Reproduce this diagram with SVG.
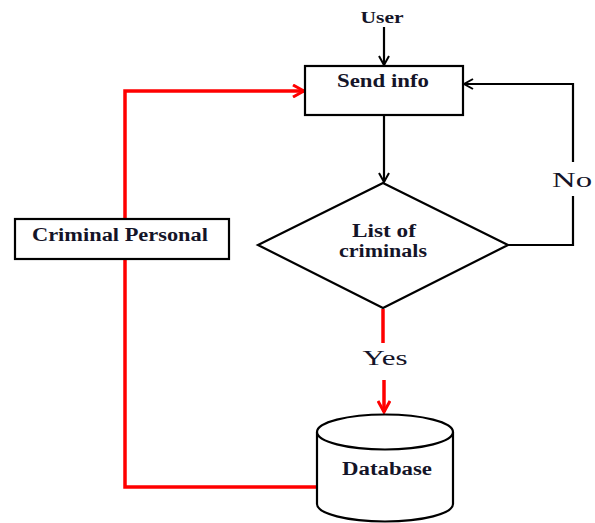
<svg xmlns="http://www.w3.org/2000/svg" width="595" height="523" viewBox="0 0 595 523">
<style>
.box{fill:#fff;stroke:#000;stroke-width:2.2}
.lbl{font-family:"Liberation Serif",serif;font-weight:bold;font-size:18px;fill:#141428;text-anchor:middle}
.edge{font-family:"Liberation Serif",serif;font-size:21px;fill:#141428;text-anchor:middle}
.blk{fill:none;stroke:#000;stroke-width:2.2}
.red{fill:none;stroke:#f00;stroke-width:3.5}
</style>
<defs>
<marker id="ab" markerWidth="12" markerHeight="12" refX="10" refY="6" orient="auto" markerUnits="userSpaceOnUse">
<path d="M1,1 L10,6 L1,11" fill="none" stroke="#000" stroke-width="2"/>
</marker>
<marker id="ar" markerWidth="14" markerHeight="14" refX="12" refY="7" orient="auto" markerUnits="userSpaceOnUse">
<path d="M1,1 L12,7 L1,13" fill="none" stroke="#f00" stroke-width="3"/>
</marker>
</defs>
<g id="connectors">
<line class="blk" x1="384" y1="27" x2="384" y2="65" marker-end="url(#ab)"/>
<line class="blk" x1="384" y1="116" x2="384" y2="182" marker-end="url(#ab)"/>
<polyline class="blk" points="508,245 573,245 573,196"/>
<polyline class="blk" points="573,162 573,84 464,84" marker-end="url(#ab)"/>
<line class="red" x1="383" y1="309" x2="383" y2="343"/>
<line class="red" x1="384" y1="380" x2="384" y2="412" marker-end="url(#ar)"/>
<polyline class="red" points="317,487 125,487 125,91 304,91" marker-end="url(#ar)"/>
<text class="edge" x="572" y="187" textLength="40" lengthAdjust="spacingAndGlyphs">No</text>
<text class="edge" x="385" y="365" textLength="45" lengthAdjust="spacingAndGlyphs">Yes</text>
</g>
<g id="user">
<text class="lbl" x="382" y="23" style="font-size:16px" textLength="43" lengthAdjust="spacingAndGlyphs">User</text>
</g>
<g id="send-info">
<rect class="box" x="305" y="66" width="158" height="49"/>
<text class="lbl" x="383" y="87" textLength="92" lengthAdjust="spacingAndGlyphs">Send info</text>
</g>
<g id="list-of-criminals">
<polygon class="box" points="383,183 508,245 383,308 258,245"/>
<text class="lbl" x="384" y="237" textLength="64" lengthAdjust="spacingAndGlyphs">List of</text>
<text class="lbl" x="383" y="257" textLength="88" lengthAdjust="spacingAndGlyphs">criminals</text>
</g>
<g id="criminal-personal">
<rect class="box" x="15" y="219" width="214" height="40"/>
<text class="lbl" x="120" y="241" textLength="176" lengthAdjust="spacingAndGlyphs">Criminal Personal</text>
</g>
<g id="database">
<path class="box" d="M317,432 L317,504 A68,17.5 0 0 0 453,504 L453,432"/>
<ellipse class="box" cx="385" cy="432" rx="68" ry="17.5"/>
<text class="lbl" x="387" y="475" textLength="90" lengthAdjust="spacingAndGlyphs">Database</text>
</g>
</svg>
